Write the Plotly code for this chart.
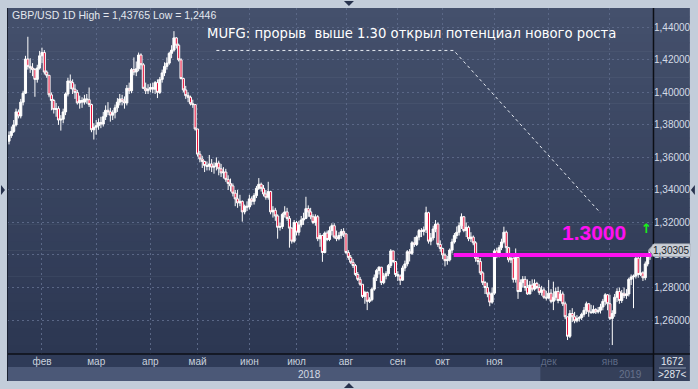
import plotly.graph_objects as go

# ---------------- data ----------------
first_open = 1.3700
closes = [
    # Jan 2018 (tail)
    1.3735,1.3760,1.3800,1.3880,1.3855,1.3940,1.3995,1.4205,1.4160,1.4150,1.4140,1.4080,1.4150,1.4225,
    # Feb
    1.4245,1.4125,1.4105,1.3985,1.3950,1.3895,1.3900,1.3830,1.3835,1.3880,1.3990,1.4070,1.4060,1.4020,
    1.4000,1.3935,1.3950,1.3940,1.3960,1.3955,1.3925,1.3770,1.3785,
    # Mar
    1.3795,1.3815,1.3805,1.3850,1.3890,1.3880,1.3860,1.3875,1.3905,1.3940,1.3960,1.3945,1.3935,1.4025,
    1.4010,1.4140,1.4125,1.4145,1.4230,1.4170,1.4025,1.4010,1.4020,
    # Apr
    1.4030,1.4020,1.4060,1.4000,1.4080,1.4120,1.4160,1.4180,1.4240,1.4260,1.4335,1.4290,1.4200,1.4085,
    1.4015,1.3980,1.3970,1.3930,1.3925,1.3775,
    # May
    1.3620,1.3590,1.3575,1.3550,1.3545,1.3560,1.3540,1.3545,1.3565,1.3530,1.3505,1.3510,1.3465,1.3440,
    1.3425,1.3380,1.3345,1.3320,1.3330,1.3265,1.3300,1.3295,
    # Jun
    1.3345,1.3330,1.3365,1.3410,1.3435,1.3410,1.3375,1.3355,1.3390,1.3265,1.3275,1.3240,1.3170,1.3175,
    1.3250,1.3265,1.3225,1.3165,1.3085,1.3200,
    # Jul
    1.3140,1.3185,1.3215,1.3225,1.3285,1.3265,1.3235,1.3200,1.3235,1.3100,1.3120,1.3015,1.3135,1.3095,
    1.3150,1.3180,1.3110,1.3100,1.3120,1.3145,1.3130,
    # Aug
    1.3015,1.2985,1.2955,1.2935,1.2880,1.2850,1.2820,1.2745,1.2770,1.2715,1.2725,1.2790,1.2860,1.2905,
    1.2925,1.2830,1.2870,1.2885,1.2935,1.3025,1.2960,1.2880,
    # Sep
    1.2870,1.2845,1.2920,1.2945,1.3020,1.3010,1.3075,1.3065,1.3110,1.3150,1.3145,1.3155,1.3260,1.3085,
    1.3105,1.3160,1.3190,1.3065,1.3040,
    # Oct
    1.3000,1.2965,1.2970,1.3030,1.3080,1.3120,1.3140,1.3180,1.3235,1.3150,1.3170,1.3100,1.3110,1.3075,
    1.2980,1.2960,1.2890,1.2830,1.2800,1.2760,1.2710,1.2765,
    # Nov
    1.3025,1.3000,1.3045,1.3080,1.3140,1.3045,1.2970,1.2980,1.2850,1.2985,1.2775,1.2830,1.2850,1.2800,
    1.2760,1.2815,1.2790,1.2825,1.2800,1.2770,1.2785,1.2740,1.2735,
    # Dec
    1.2765,1.2715,1.2740,1.2775,1.2720,1.2760,1.2700,1.2620,1.2500,1.2640,1.2620,1.2595,1.2610,1.2615,
    1.2635,1.2660,1.2700,1.2650,1.2645,1.2665,1.2650,1.2660,1.2680,1.2715,1.2755,1.2700,
    # Jan 2019
    1.2610,1.2640,1.2740,1.2775,1.2720,1.2765,1.2750,1.2760,1.2850,1.2865,1.2870,1.2980,1.2880,1.2890,
    1.2860,1.2945,1.2990,1.30305,
]
highs = [
    1.3760,1.3790,1.3830,1.3900,1.3895,1.3960,1.4010,1.4225,1.4342,1.4210,1.4180,1.4150,1.4170,1.4255,
    1.4275,1.4260,1.4135,1.4100,1.4000,1.3960,1.3935,1.3915,1.3860,1.3900,1.4000,1.4090,1.4110,1.4080,
    1.4050,1.4015,1.3980,1.3970,1.3985,1.3990,1.4030,1.3930,1.3810,
    1.3830,1.3840,1.3850,1.3880,1.3920,1.3940,1.3905,1.3890,1.3925,1.3965,1.3990,1.3985,1.3975,1.4045,
    1.4060,1.4150,1.4215,1.4190,1.4245,1.4240,1.4180,1.4060,1.4050,
    1.4055,1.4060,1.4070,1.4080,1.4095,1.4140,1.4185,1.4215,1.4250,1.4290,1.43765,1.4340,1.4300,1.4210,
    1.4090,1.4040,1.4000,1.3980,1.3955,1.3925,
    1.3775,1.3640,1.3610,1.3580,1.3575,1.3615,1.3590,1.3570,1.3600,1.3580,1.3560,1.3540,1.3530,1.3490,
    1.3470,1.3440,1.3400,1.3400,1.3370,1.3335,1.3310,1.3330,
    1.3370,1.3360,1.3380,1.3425,1.3473,1.3445,1.3430,1.3400,1.3450,1.3395,1.3300,1.3290,1.3250,1.3200,
    1.3260,1.3300,1.3290,1.3240,1.3170,1.3215,
    1.3210,1.3210,1.3240,1.3260,1.3358,1.3305,1.3290,1.3250,1.3250,1.3245,1.3135,1.3125,1.3145,1.3150,
    1.3175,1.3195,1.3195,1.3150,1.3140,1.3160,1.3165,
    1.3130,1.3030,1.3000,1.2975,1.2945,1.2895,1.2865,1.2815,1.2780,1.2775,1.2740,1.2800,1.2880,1.2915,
    1.2930,1.2925,1.2890,1.2900,1.2945,1.3036,1.3025,1.2960,
    1.2900,1.2880,1.2935,1.2965,1.3030,1.3036,1.3085,1.3110,1.3120,1.3160,1.3165,1.3175,1.3297,1.3266,
    1.3135,1.3180,1.3215,1.3200,1.3090,
    1.3045,1.3010,1.2995,1.3040,1.3100,1.3135,1.3175,1.3200,1.3256,1.3240,1.3200,1.3180,1.3140,1.3120,
    1.3085,1.3000,1.2981,1.2900,1.2840,1.2830,1.2774,1.2800,
    1.3036,1.3045,1.3060,1.3100,1.3174,1.3150,1.3050,1.3000,1.2985,1.3040,1.3000,1.2850,1.2870,1.2870,
    1.2850,1.2840,1.2850,1.2850,1.2835,1.2820,1.2810,1.2800,1.2780,
    1.2846,1.2790,1.2836,1.2800,1.2805,1.2785,1.2775,1.2713,1.2620,1.2661,1.2673,1.2650,1.2630,1.2625,
    1.2645,1.2680,1.2713,1.2705,1.2693,1.2690,1.2673,1.2680,1.2700,1.2730,1.2765,1.2760,
    1.2755,1.2660,1.2760,1.2795,1.2800,1.2785,1.2800,1.2790,1.2860,1.2880,1.2880,1.2990,1.3000,1.2990,
    1.2900,1.2960,1.3000,1.3040,
]
lows = [
    1.3680,1.3720,1.3750,1.3790,1.3840,1.3840,1.3920,1.3990,1.4140,1.4120,1.4100,1.3973,1.4060,1.4140,
    1.4180,1.4110,1.4090,1.3970,1.3890,1.3870,1.3850,1.3800,1.3765,1.3810,1.3860,1.3975,1.4020,1.3990,
    1.3960,1.3925,1.3900,1.3905,1.3925,1.3930,1.3910,1.3755,1.3710,
    1.3740,1.3770,1.3780,1.3790,1.3830,1.3860,1.3820,1.3830,1.3840,1.3880,1.3920,1.3920,1.3900,1.3920,
    1.3990,1.3995,1.4105,1.4100,1.4130,1.4140,1.4020,1.3990,1.3990,
    1.4000,1.3995,1.3990,1.3965,1.3990,1.4060,1.4100,1.4140,1.4170,1.4210,1.4250,1.4270,1.4190,1.4080,
    1.4000,1.3960,1.3940,1.3920,1.3905,1.3765,
    1.3605,1.3570,1.3535,1.3510,1.3520,1.3520,1.3510,1.3500,1.3520,1.3490,1.3480,1.3470,1.3450,1.3400,
    1.3390,1.3360,1.3300,1.3290,1.3300,1.3205,1.3250,1.3270,
    1.3280,1.3305,1.3310,1.3350,1.3400,1.3390,1.3360,1.3340,1.3340,1.3250,1.3230,1.3210,1.3100,1.3150,
    1.3160,1.3230,1.3210,1.3045,1.3070,1.3075,
    1.3120,1.3120,1.3170,1.3185,1.3220,1.3235,1.3220,1.3190,1.3180,1.3085,1.3050,1.2958,1.3010,1.3085,
    1.3085,1.3120,1.3100,1.3085,1.3090,1.3100,1.3110,
    1.3005,1.2970,1.2945,1.2920,1.2870,1.2840,1.2810,1.2735,1.2700,1.2661,1.2705,1.2715,1.2780,1.2840,
    1.2880,1.2815,1.2820,1.2850,1.2870,1.2920,1.2950,1.2865,
    1.2840,1.2815,1.2840,1.2900,1.2930,1.2960,1.3000,1.3050,1.3055,1.3090,1.3110,1.3120,1.3135,1.3070,
    1.3060,1.3090,1.3140,1.3050,1.3020,
    1.2975,1.2930,1.2940,1.2960,1.3010,1.3070,1.3100,1.3120,1.3160,1.3140,1.3110,1.3085,1.3080,1.3060,
    1.2958,1.2940,1.2877,1.2815,1.2760,1.2740,1.2685,1.2700,
    1.2755,1.2980,1.2985,1.3030,1.3070,1.3010,1.2955,1.2950,1.2830,1.2830,1.2730,1.2790,1.2800,1.2780,
    1.2755,1.2760,1.2775,1.2780,1.2790,1.2755,1.2750,1.2730,1.2720,
    1.2730,1.2703,1.2661,1.2720,1.2703,1.2715,1.2686,1.2605,1.2477,1.2489,1.2587,1.2580,1.2585,1.2590,
    1.2600,1.2620,1.2637,1.2620,1.2640,1.2640,1.2637,1.2640,1.2640,1.2660,1.2690,1.2660,
    1.2600,1.2446,1.2620,1.2710,1.2700,1.2705,1.2735,1.2730,1.2745,1.2815,1.2673,1.2855,1.2860,1.2870,
    1.2840,1.2845,1.2930,1.2970,
]
month_labels = ["фев", "мар", "апр", "май", "июн", "июл", "авг", "сен", "окт", "ноя", "дек", "янв"]
month_start_bar = [14, 37, 60, 80, 102, 122, 143, 165, 184, 206, 229, 255]
price_ticks = [1.26, 1.28, 1.30, 1.32, 1.34, 1.36, 1.38, 1.40, 1.42, 1.44]
price_tick_text = ["1,26000", "1,28000", "1,30000", "1,32000", "1,34000",
                   "1,36000", "1,38000", "1,40000", "1,42000", "1,44000"]
level = 1.30
title_text = "GBP/USD 1D High = 1,43765 Low = 1,2446"
note_text = "MUFG: прорыв  выше 1.30 открыл потенциал нового роста"

n = len(closes)
opens = [first_open] + closes[:-1]
xs = list(range(n))
hi = [max(h, o, c) for h, o, c in zip(highs, opens, closes)]
lo = [min(l, o, c) for l, o, c in zip(lows, opens, closes)]

# ---------------- geometry helpers (pixel -> paper) ----------------
W, H = 698, 389
L, R, T, B = 7, 43, 8, 35
PW, PH = W - L - R, H - T - B
def pxx(x):
    return (x - L) / PW
def pxy(y):
    return (H - B - y) / PH

X0, X1 = -0.846, 273.27
Y0, Y1 = 1.2391, 1.4519

fig = go.Figure()
fig.add_trace(go.Candlestick(
    x=xs, open=opens, high=hi, low=lo, close=closes,
    increasing=dict(line=dict(color="#ffffff", width=1), fillcolor="#ffffff"),
    decreasing=dict(line=dict(color="#ffffff", width=1), fillcolor="#e8133c"),
    whiskerwidth=0, hoverinfo="skip",
))

shapes = []
# plot-area gradient (also covers right axis panel)
nb = 40
top_c = (68, 80, 108)
bot_c = (44, 55, 82)
for k in range(nb):
    t = k / (nb - 1)
    col = tuple(round(top_c[i] + (bot_c[i] - top_c[i]) * t) for i in range(3))
    y_top = 8 + k * (346 / nb)
    y_bot = 8 + (k + 1) * (346 / nb) + 0.6
    shapes.append(dict(type="rect", xref="paper", yref="paper", layer="below",
                       x0=pxx(7), x1=pxx(692), y0=pxy(min(y_bot, 354)), y1=pxy(y_top),
                       line=dict(width=0), fillcolor="rgb(%d,%d,%d)" % col))
# bottom axis panel
shapes.append(dict(type="rect", xref="paper", yref="paper", layer="below",
                   x0=pxx(7), x1=pxx(655), y0=pxy(367), y1=pxy(354),
                   line=dict(width=0), fillcolor="#2f3b58"))
shapes.append(dict(type="rect", xref="paper", yref="paper", layer="below",
                   x0=pxx(7), x1=pxx(655), y0=pxy(381), y1=pxy(367),
                   line=dict(width=0), fillcolor="#4b5877"))
# darkened Dec-Jan zone
shapes.append(dict(type="rect", xref="paper", yref="paper", layer="below",
                   x0=pxx(542), x1=pxx(655), y0=pxy(381), y1=pxy(354),
                   line=dict(width=0), fillcolor="rgba(10,15,30,0.32)"))
# bottom-right box
shapes.append(dict(type="rect", xref="paper", yref="paper", layer="below",
                   x0=pxx(655), x1=pxx(692), y0=pxy(381), y1=pxy(354),
                   line=dict(width=0), fillcolor="#34405c"))
shapes.append(dict(type="line", xref="paper", yref="paper", layer="above",
                   x0=pxx(661), x1=pxx(688), y0=pxy(368), y1=pxy(368),
                   line=dict(color="#8d98ad", width=1)))
# dark separators
shapes.append(dict(type="line", xref="paper", yref="paper", layer="above",
                   x0=pxx(655.5), x1=pxx(655.5), y0=pxy(381), y1=pxy(8),
                   line=dict(color="#0c0f16", width=1.5)))
shapes.append(dict(type="line", xref="paper", yref="paper", layer="above",
                   x0=pxx(7), x1=pxx(692), y0=pxy(354), y1=pxy(354),
                   line=dict(color="#0c0f16", width=1.5)))
shapes.append(dict(type="line", xref="paper", yref="paper", layer="above",
                   x0=pxx(7.5), x1=pxx(7.5), y0=pxy(381), y1=pxy(8),
                   line=dict(color="#1b2232", width=1)))
# frame triangles
tri_col = "#27324d"
def tri(pts):
    d = "M " + " L ".join("%f,%f" % (pxx(a), pxy(b)) for a, b in pts) + " Z"
    return dict(type="path", xref="paper", yref="paper", layer="above", path=d,
                fillcolor=tri_col, line=dict(width=0))
shapes.append(tri([(345, 1), (355, 1), (350, 6)]))
shapes.append(tri([(345, 388), (355, 388), (350, 383)]))
shapes.append(tri([(1, 185), (1, 195), (5, 190)]))
shapes.append(tri([(697, 185), (697, 195), (693, 190)]))

# dotted leader line from the headline towards the chart
shapes.append(dict(type="path", xref="x", yref="y", layer="above",
                   path="M 88,1.4258 L 188.7,1.4258 L 251,1.3258",
                   line=dict(color="#e6ebf2", width=1, dash="dot")))
# magenta 1.30 level
shapes.append(dict(type="line", xref="x", yref="y", layer="above",
                   x0=188.7, x1=272.6, y0=level, y1=level,
                   line=dict(color="#ff10f0", width=4)))
# last price tag
lc = closes[-1]
hh = 0.0039
tag = "M %f,%f L %f,%f L %f,%f L %f,%f L %f,%f Z" % (
    pxx(650.5), lc, pxx(656), lc + hh, pxx(692), lc + hh, pxx(692), lc - hh, pxx(656), lc - hh)
shapes.append(dict(type="path", xref="paper", yref="y", layer="above", path=tag,
                   fillcolor="#c9ced6", line=dict(color="#7f8794", width=1)))

annotations = [
    dict(xref="paper", yref="paper", x=pxx(10), y=pxy(15), xanchor="left", yanchor="middle",
         text=title_text, showarrow=False,
         font=dict(family="Liberation Sans, Arial", size=10.5, color="#e3e8ef")),
    dict(xref="paper", yref="paper", x=pxx(206), y=pxy(33), xanchor="left", yanchor="middle",
         text=note_text, showarrow=False,
         font=dict(family="DejaVu Sans", size=13.2, color="#ffffff")),
    dict(xref="x", yref="y", x=248.3, y=1.3141, xanchor="center", yanchor="middle",
         text="<b>1.3000</b>", showarrow=False,
         font=dict(family="Liberation Sans, Arial", size=21, color="#ff10f0")),
    dict(xref="x", yref="y", x=270.7, y=1.3165, xanchor="center", yanchor="middle",
         text="<b>↑</b>", showarrow=False,
         font=dict(family="DejaVu Sans", size=13, color="#19f019")),
    dict(xref="paper", yref="y", x=pxx(674), y=lc, xanchor="center", yanchor="middle",
         text="1,30305", showarrow=False, bgcolor="#c9ced6", borderpad=0,
         font=dict(family="Liberation Sans, Arial", size=10, color="#1a1f2a")),
    dict(xref="paper", yref="paper", x=pxx(310), y=pxy(374), xanchor="center", yanchor="middle",
         text="2018", showarrow=False,
         font=dict(family="Liberation Sans, Arial", size=10, color="#d3dae5")),
    dict(xref="paper", yref="paper", x=pxx(632), y=pxy(374), xanchor="center", yanchor="middle",
         text="2019", showarrow=False,
         font=dict(family="Liberation Sans, Arial", size=10, color="#66728c")),
    dict(xref="paper", yref="paper", x=pxx(675), y=pxy(361.5), xanchor="center", yanchor="middle",
         text="1672", showarrow=False,
         font=dict(family="Liberation Sans, Arial", size=10, color="#e3e8ef")),
    dict(xref="paper", yref="paper", x=pxx(675), y=pxy(374.5), xanchor="center", yanchor="middle",
         text="&gt;287&lt;", showarrow=False,
         font=dict(family="Liberation Sans, Arial", size=10, color="#e3e8ef")),
]

tick_text = []
for i, m in enumerate(month_labels):
    if month_start_bar[i] >= 229:
        tick_text.append("<span style='color:#5e6a85'>%s</span>" % m)
    else:
        tick_text.append(m)

grid_col = "#5a6786"
fig.update_layout(
    width=W, height=H, margin=dict(l=L, r=R, t=T, b=B, pad=0),
    paper_bgcolor="#c3cdda", plot_bgcolor="rgba(0,0,0,0)",
    showlegend=False, shapes=shapes, annotations=annotations,
    boxgap=0.12, boxgroupgap=0,
    xaxis=dict(range=[X0, X1], tickmode="array", tickvals=month_start_bar, ticktext=tick_text,
               showgrid=True, gridcolor=grid_col, griddash="2px,3px", gridwidth=1,
               ticks="", zeroline=False, showline=False, rangeslider=dict(visible=False),
               tickfont=dict(family="Liberation Sans, Arial", size=10, color="#c9d1dd"),
               fixedrange=True),
    yaxis=dict(range=[Y0, Y1], side="right", tickmode="array", tickvals=price_ticks,
               ticktext=price_tick_text, showgrid=True, gridcolor=grid_col,
               griddash="2px,3px", gridwidth=1, ticks="", zeroline=False, showline=False,
               tickfont=dict(family="Liberation Sans, Arial", size=10, color="#d5dce7"),
               fixedrange=True),
)

fig.write_html("out.html")
